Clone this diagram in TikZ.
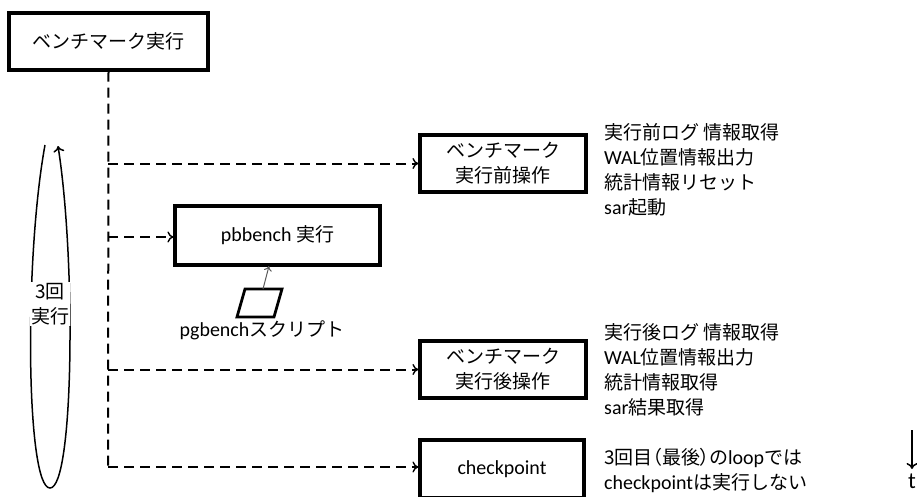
\documentclass[tikz,border=0pt]{standalone}
\usepackage{fontspec}
\setmainfont{Carlito}[Scale=1.05]
\newfontfamily\jp{Noto Sans CJK JP}
\newfontfamily\jpp{Noto Sans CJK JP}[RawFeature=+palt]
\usetikzlibrary{arrows.meta}
\newcommand{\J}[1]{{\jp #1}}
\tikzset{
  box/.style={draw, line width=3.2pt, inner sep=0pt, align=center,
    font=\fontsize{19}{25}\selectfont},
  tip/.style={-{To[length=6pt,width=11pt,line width=1.4pt]}},
  dashconn/.style={line width=2pt, dash pattern=on 10pt off 6pt, tip},
  note/.style={anchor=west, align=left, inner sep=0pt, font=\fontsize{19}{25}\selectfont},
  thinarrow/.style={line width=1.5pt, -{To[length=6pt,width=11pt]}},
}
\begin{document}
\begin{tikzpicture}[x=1pt,y=-1pt]
\useasboundingbox (0,0) rectangle (917,496);
% main box
\node[box, minimum width=199pt, minimum height=57pt] (main) at (108.5,41.5) {\J{ベンチマーク実行}};
% boxes
\node[box, minimum width=166pt, minimum height=57pt] (pre) at (503,163.5) {\J{ベンチマーク}\\\J{実行前操作}};
\node[box, minimum width=205pt, minimum height=59pt] (pb) at (277.5,235.5) {pbbench \J{実行}};
\node[box, minimum width=166pt, minimum height=57pt] (post) at (503,369.5) {\J{ベンチマーク}\\\J{実行後操作}};
\node[box, minimum width=164pt, minimum height=58pt] (cp) at (502,469) {checkpoint};
% trunk
\coordinate (b1) at (108,163.5);
\coordinate (b2) at (108,237);
\coordinate (b3) at (108,369.5);
\coordinate (b4) at (108,467);
\draw[line width=2pt, dash pattern=on 10pt off 6pt] (main.south) -- (b4);
\draw[dashconn] (b1) -- (pre.west);
\draw[dashconn] (b2) -- (pb.west |- b2);
\draw[dashconn] (b3) -- (post.west);
\draw[dashconn] (b4) -- (cp.west |- b4);
% script parallelogram
\draw[line width=2.8pt, line join=miter] (245,289) -- (282,289) -- (274,317) -- (237,317) -- cycle;
\coordinate (sc) at (263,289);
\draw[line width=1pt, draw=black!65, -{To[length=5pt,width=8pt]}] (sc) -- (269,266);
\node[inner sep=0pt, font=\fontsize{19}{20}\selectfont] (sclabel) at (262,330) {pgbench\J{スクリプト}};
% notes
\node[note] (prenote) at (604,170) {\J{実行前ログ 情報取得}\\WAL\J{位置情報出力}\\\J{統計情報リセット}\\sar\J{起動}};
\node[note] (postnote) at (604,370) {\J{実行後ログ 情報取得}\\WAL\J{位置情報出力}\\\J{統計情報取得}\\sar\J{結果取得}};
\node[note] (cpnote) at (604,470) {{\jpp 3回目（最後）の}loop\J{では}\\checkpoint\J{は実行しない}};
% loop
\draw[thinarrow] (45,145) .. controls (24,260) and (26,488) .. (50,488) .. controls (74,488) and (76,260) .. (58,146);
\node[fill=white, inner sep=1pt, align=center, font=\fontsize{19}{25}\selectfont] (loop) at (50,304) {\J{3回}\\\J{実行}};
% time arrow
\coordinate (t0) at (912,430);
\node[inner sep=0pt, font=\fontsize{22}{22}\selectfont, anchor=north] (tl) at (912,474) {t};
\draw[line width=1.5pt, -{To[length=6pt,width=11pt]}] (t0) -- (912,469);
\end{tikzpicture}
\end{document}
